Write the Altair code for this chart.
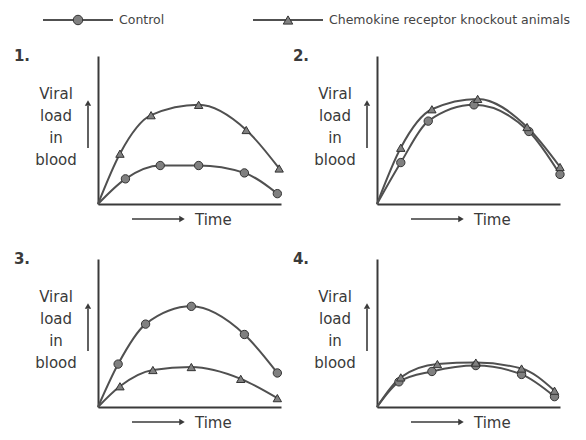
import altair as alt
import pandas as pd

groups = ["Control", "Chemokine receptor knockout animals"]
panels = ["1.", "2.", "3.", "4."]
shapes = ["circle", "triangle-up"]

# values (axis units 0-10 on both axes)
p1_ctrl_t = [1.5, 3.4, 5.5, 8.0, 9.8]
p1_ctrl_v = [1.7, 2.6, 2.6, 2.1, 0.7]
p1_ko_t = [1.2, 2.9, 5.5, 8.1, 9.9]
p1_ko_v = [3.4, 6.0, 6.7, 5.0, 2.4]

p2_ctrl_t = [1.3, 2.8, 5.3, 8.3, 10.0]
p2_ctrl_v = [2.8, 5.6, 6.7, 4.9, 2.0]
p2_ko_t = [1.3, 3.0, 5.5, 8.2, 10.0]
p2_ko_v = [3.8, 6.4, 7.1, 5.2, 2.5]

p3_ctrl_t = [1.1, 2.6, 5.1, 8.0, 9.8]
p3_ctrl_v = [2.9, 5.6, 6.8, 4.9, 2.3]
p3_ko_t = [1.2, 3.0, 5.1, 7.8, 9.8]
p3_ko_v = [1.4, 2.5, 2.7, 1.9, 0.6]

p4_ctrl_t = [1.2, 3.0, 5.4, 7.9, 9.7]
p4_ctrl_v = [1.7, 2.4, 2.8, 2.2, 0.7]
p4_ko_t = [1.3, 3.3, 5.4, 7.9, 9.7]
p4_ko_v = [2.0, 2.9, 3.0, 2.6, 1.1]

series = {
    "1.": [(p1_ctrl_t, p1_ctrl_v), (p1_ko_t, p1_ko_v)],
    "2.": [(p2_ctrl_t, p2_ctrl_v), (p2_ko_t, p2_ko_v)],
    "3.": [(p3_ctrl_t, p3_ctrl_v), (p3_ko_t, p3_ko_v)],
    "4.": [(p4_ctrl_t, p4_ctrl_v), (p4_ko_t, p4_ko_v)],
}

rows = []
for p in panels:
    for g, (ts, vs) in zip(groups, series[p]):
        rows.append({"panel": p, "group": g, "t": 0.0, "v": 0.0, "marker": False})
        for t, v in zip(ts, vs):
            rows.append({"panel": p, "group": g, "t": t, "v": v, "marker": True})
df = pd.DataFrame(rows)

W, H = 183, 148
INK = "#3a3a3a"
LINE = "#505050"
FONT = "DejaVu Sans"

ax = dict(title=None, labels=False, ticks=False, grid=False,
          domainColor=INK, domainWidth=2)
X = alt.X("t:Q", scale=alt.Scale(domain=[0, 10], nice=False), axis=alt.Axis(**ax))
Y = alt.Y("v:Q", scale=alt.Scale(domain=[0, 10], nice=False), axis=alt.Axis(**ax))
shape_enc = alt.Shape("group:N", scale=alt.Scale(domain=groups, range=shapes), legend=None)

lines = alt.Chart().mark_line(interpolate="monotone", color=LINE, strokeWidth=2).encode(
    x=X, y=Y, detail="group:N")
points = alt.Chart().transform_filter("datum.marker").mark_point(
    filled=True, fill="#808080", stroke="#333333", strokeWidth=1, opacity=1, size=70
).encode(x=X, y=Y, shape=shape_enc)

deco = alt.Chart().transform_filter("datum.t == 0 && datum.group == 'Control'")
num = deco.mark_text(fontSize=15, fontWeight="bold", font=FONT, color=INK).encode(
    x=alt.value(-76), y=alt.value(0), text="panel:N")
ylab = deco.mark_text(text=["Viral", "load", "in", "blood"], lineHeight=22, baseline="top",
                      align="center", fontSize=15, font=FONT, color=INK).encode(
    x=alt.value(-42), y=alt.value(31))
up_rule = deco.mark_rule(color=INK, strokeWidth=1.6).encode(
    x=alt.value(-10), y=alt.value(50), y2=alt.value(92))
up_head = deco.mark_point(shape="triangle-up", filled=True, size=40, color=INK, opacity=1).encode(
    x=alt.value(-10), y=alt.value(47))
t_rule = deco.mark_rule(color=INK, strokeWidth=1.6).encode(
    x=alt.value(34), x2=alt.value(82), y=alt.value(H + 15))
t_head = deco.mark_point(shape="triangle-right", filled=True, size=40, color=INK, opacity=1).encode(
    x=alt.value(84), y=alt.value(H + 15))
t_text = deco.mark_text(text="Time", align="left", baseline="middle", fontSize=15,
                        font=FONT, color=INK).encode(x=alt.value(97), y=alt.value(H + 16))

panel_layer = alt.layer(lines, points, num, ylab, up_rule, up_head, t_rule, t_head, t_text,
                        data=df).properties(width=W, height=H)

grid = panel_layer.facet(
    facet=alt.Facet("panel:N", title=None,
                    header=alt.Header(labels=False, labelFontSize=1, title=None,
                                      labelColor="transparent", labelPadding=0)),
    columns=2, spacing={"row": 23, "column": 4}
).resolve_axis(x="independent", y="independent")

# legend row
leg_df = pd.DataFrame({"group": groups})
LX = alt.X("group:N", scale=alt.Scale(type="point", domain=groups, range=[-20, 190], padding=0),
           axis=None)
leg_line = alt.Chart(leg_df).mark_tick(orient="horizontal", size=70, thickness=1.8,
                                       color=LINE, opacity=1).encode(x=LX, y=alt.value(12))
leg_mark = alt.Chart(leg_df).mark_point(filled=True, fill="#808080", stroke="#333333",
                                        strokeWidth=1, opacity=1, size=90).encode(
    x=LX, y=alt.value(12), shape=shape_enc)
leg_text = alt.Chart(leg_df).mark_text(align="left", baseline="middle", dx=41, fontSize=12.5,
                                       font=FONT, color="#444444").encode(
    x=LX, y=alt.value(12), text="group:N")
legend = alt.layer(leg_line, leg_mark, leg_text).properties(width=400, height=20)

chart = alt.vconcat(legend, grid, spacing=20).properties(
    background="white", padding={"left": 5, "top": 0, "right": 0, "bottom": 0}
).configure_view(strokeWidth=0)

chart.save("out.html", embed_options={"renderer": "svg", "actions": False})
